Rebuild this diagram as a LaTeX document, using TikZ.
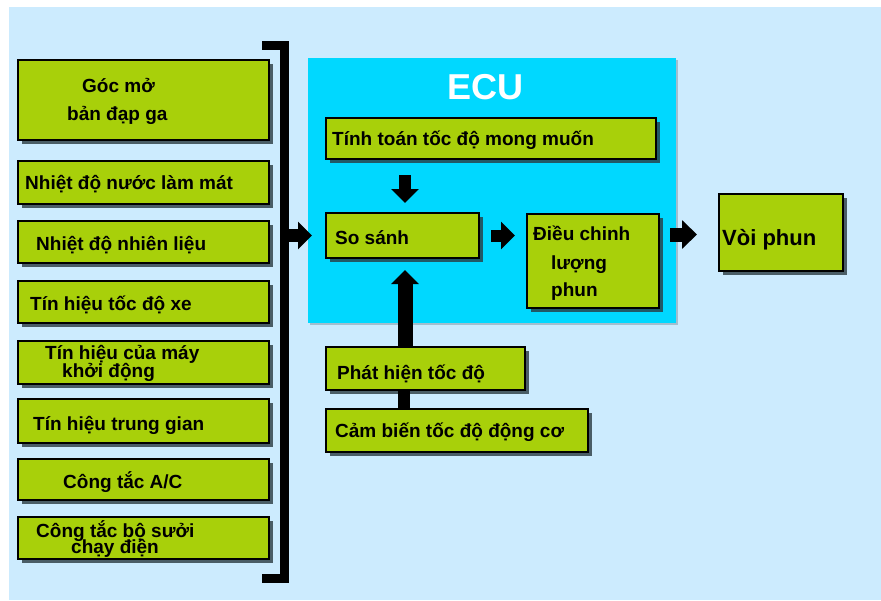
\documentclass[tikz,border=0pt]{standalone}
\usepackage{fontspec}
\setmainfont{Liberation Sans}
\usepackage{xcolor}
\usetikzlibrary{arrows.meta,shadows}

\definecolor{skyback}{HTML}{CCEBFE}
\definecolor{ecucyan}{HTML}{00D8FF}
\definecolor{boxgreen}{HTML}{A8D00A}
\definecolor{shade}{HTML}{2A3A40}

\tikzset{
  blk/.style={draw=black, line width=2pt, fill=boxgreen,
    drop shadow={shadow xshift=3.5pt, shadow yshift=-3.5pt, fill=shade, opacity=.8},
    inner sep=0pt, anchor=north west},
  lbl/.style={font=\fontsize{19}{22}\selectfont\bfseries, inner sep=0pt,
    anchor=base west},
  fat/.style={line width=12pt, -{Triangle[length=14pt, width=27pt]}},
}

\begin{document}
\begin{tikzpicture}[x=1pt, y=-1pt]
   \useasboundingbox (0,0) rectangle (881,600);
   \fill[white] (0,0) rectangle (881,600);
   \fill[skyback] (9,7) rectangle (881,600);

   % sensor inputs on the left
   \node[blk, minimum width=251pt, minimum height=80pt] (goc) at (17,59) {};
   \node[blk, minimum width=251pt, minimum height=43pt] (nuoc) at (17,160) {};
   \node[blk, minimum width=251pt, minimum height=42pt] (nhienlieu) at (17,220) {};
   \node[blk, minimum width=251pt, minimum height=42pt] (tocdoxe) at (17,280) {};
   \node[blk, minimum width=251pt, minimum height=43pt] (khoidong) at (17,340) {};
   \node[blk, minimum width=251pt, minimum height=44pt] (trunggian) at (17,398) {};
   \node[blk, minimum width=251pt, minimum height=41pt] (ac) at (17,458) {};
   \node[blk, minimum width=251pt, minimum height=42pt] (suoi) at (17,516) {};

   \node[lbl] (goc1) at (82,92) {Góc mở};
   \node[lbl] (goc2) at (67,120) {bản đạp ga};
   \node[lbl] (nuoc1) at (25,189) {Nhiệt độ nước làm mát};
   \node[lbl] (nhienlieu1) at (36,250) {Nhiệt độ nhiên liệu};
   \node[lbl] (tocdoxe1) at (30,310) {Tín hiệu tốc độ xe};
   \node[lbl] (khoidong1) at (45,359) {Tín hiệu của máy};
   \node[lbl] (khoidong2) at (62,377) {khởi động};
   \node[lbl] (trunggian1) at (33,430) {Tín hiệu trung gian};
   \node[lbl] (ac1) at (63,488) {Công tắc A/C};
   \node[lbl] (suoi1) at (36,537) {Công tắc bộ sưởi};
   \node[lbl] (suoi2) at (71,553) {chạy điện};

   % bracket gathering the inputs
   \coordinate (brtop) at (262,45);
   \coordinate (brbot) at (262,578);
   \draw[line width=9pt, line join=miter] (brtop) -- (284,45) -- (284,578) -- (brbot);
   \coordinate (brk) at (288,234);

   % ECU
   \node[fill=ecucyan, inner sep=0pt, anchor=north west,
     minimum width=368pt, minimum height=265pt,
     drop shadow={shadow xshift=2pt, shadow yshift=-2pt, fill=shade, opacity=.25}] (ecu) at (308,58) {};
   \node[font=\fontsize{36}{40}\selectfont\bfseries, text=white, inner sep=0pt] (ecutitle) at (485,87) {ECU};

   \node[blk, minimum width=330pt, minimum height=41pt] (tinhtoan) at (325,117) {};
   \node[blk, minimum width=153pt, minimum height=45pt] (sosanh) at (325,212) {};
   \node[blk, minimum width=132pt, minimum height=94pt] (dieuchinh) at (526,213) {};
   \node[lbl] (tinhtoan1) at (332,145) {Tính toán tốc độ mong muốn};
   \node[lbl] (sosanh1) at (335,244) {So sánh};
   \node[lbl] (dieuchinh1) at (533,240) {Điều chinh};
   \node[lbl] (dieuchinh2) at (551,269) {lượng};
   \node[lbl] (dieuchinh3) at (551,296) {phun};

   % engine speed chain
   \node[blk, minimum width=199pt, minimum height=43pt] (phathien) at (325,346) {};
   \node[blk, minimum width=262pt, minimum height=43pt] (cambien) at (325,408) {};
   \node[lbl] (phathien1) at (337,379) {Phát hiện tốc độ};
   \node[lbl] (cambien1) at (335,437) {Cảm biến tốc độ động cơ};

   % injector
   \node[blk, minimum width=124pt, minimum height=77pt] (voiphun) at (718,193) {};
   \node[lbl, font=\fontsize{22}{26}\selectfont\bfseries] (voiphun1) at (722,245) {Vòi phun};

   % connectors
   \draw[fat, line width=13pt, shorten >=13pt] (brk |- sosanh.west) -- (sosanh.west);
   \draw[fat, shorten <=15pt, shorten >=9pt] ([xshift=2.5pt]tinhtoan.south -| sosanh.north) -- ([xshift=2.5pt]sosanh.north);
   \draw[fat, shorten <=11pt, shorten >=11pt] (sosanh.east) -- (sosanh.east -| dieuchinh.west);
   \draw[fat, -{Triangle[length=15pt, width=28pt]}, line width=14pt, shorten <=10pt, shorten >=21pt]
     ([yshift=-2pt]dieuchinh.east |- voiphun.west) -- ([yshift=-2pt]voiphun.west);
   \draw[fat, line width=15pt, shorten >=11pt] ([xshift=2.5pt]phathien.north -| sosanh.south) -- ([xshift=2.5pt]sosanh.south);
   \draw[line width=12pt] ([xshift=1.5pt]cambien.north -| sosanh.south) -- ([xshift=1.5pt]phathien.south -| sosanh.south);
\end{tikzpicture}
\end{document}
